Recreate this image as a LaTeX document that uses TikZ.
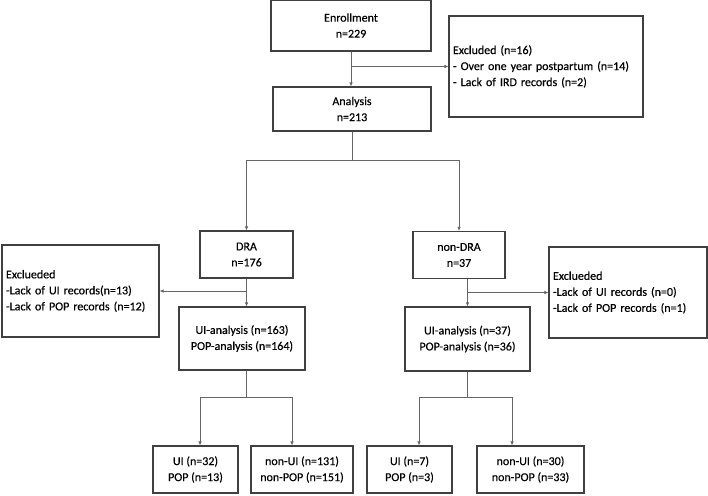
\documentclass[tikz,border=0pt]{standalone}
\usepackage{fontspec}
\setmainfont{Carlito}
\newfontfamily\chartfont{Carlito}[FakeBold=0.4]
\usetikzlibrary{positioning, calc, arrows.meta}
\tikzset{
        box/.style={
            draw=black!75, line width=1.1pt, align=center, inner sep=2pt,
            font=\chartfont\fontsize{12}{16}\selectfont
        },
        exclbox/.style={box, align=left, inner xsep=4pt},
        link/.style={draw=black!60, line width=0.7pt},
        arrow/.style={link, -{Latex[length=4pt, width=3.5pt]}},
}

\begin{document}
\begin{tikzpicture}[x=1pt, y=-1pt]

        \useasboundingbox (0,0) rectangle (708,495);

        % DRAW NODES (placed at pixel coordinates of the flow chart)
        \node[box, minimum width=160pt, minimum height=51pt]  (enroll)   at (351,25.5)   {Enrollment\\n=229};
        \node[exclbox, text width=186pt, minimum height=101pt] (excl)    at (546,66.5)   {Excluded (n=16)\\- Over one year postpartum (n=14)\\- Lack of IRD records (n=2)};
        \node[box, minimum width=158pt, minimum height=44pt]  (analysis) at (352,109)    {Analysis\\n=213};
        \node[box, minimum width=93pt,  minimum height=47pt]  (dra)      at (246.5,254.5) {DRA\\n=176};
        \node[box, minimum width=92pt,  minimum height=47pt]  (nondra)   at (459,255)    {non-DRA\\n=37};
        \node[exclbox, text width=149pt, minimum height=92pt]  (exclL)   at (80.5,291)   {Exclueded\\-Lack of UI records(n=13)\\-Lack of POP records (n=12)};
        \node[exclbox, text width=150pt, minimum height=91pt]  (exclR)   at (628,292.5)  {Exclueded\\-Lack of UI records (n=0)\\-Lack of POP records (n=1)};
        \node[box, minimum width=126pt, minimum height=63pt]  (uiaL)     at (242,338.5)  {UI-analysis (n=163)\\POP-analysis (n=164)};
        \node[box, minimum width=125pt, minimum height=64pt]  (uiaR)     at (467.5,339)  {UI-analysis (n=37)\\POP-analysis (n=36)};
        \node[box, minimum width=85pt,  minimum height=47pt]  (uiL)      at (195.5,469.5) {UI (n=32)\\POP (n=13)};
        \node[box, minimum width=102pt, minimum height=47pt]  (nonuiL)   at (302,469.5)  {non-UI (n=131)\\non-POP (n=151)};
        \node[box, minimum width=85pt,  minimum height=47pt]  (uiR)      at (409.5,469.5) {UI (n=7)\\POP (n=3)};
        \node[box, minimum width=107pt, minimum height=47pt]  (nonuiR)   at (530.5,469.5) {non-UI (n=30)\\non-POP (n=33)};

        % CONNECT ENROLLMENT
        \draw[arrow] (enroll.south) -- (enroll.south |- analysis.north);
        \draw[arrow] (enroll.south |- excl.west) -- (excl.west);

        % SPLIT INTO DRA AND NON-DRA
        \coordinate (split) at (analysis.south |- 0,160);
        \draw[link]  (analysis.south) -- (split);
        \draw[arrow] (split) -| (dra.north);
        \draw[arrow] (split) -| (nondra.north);

        % DRA BRANCH
        \draw[arrow] (dra.south) -- (dra.south |- uiaL.north);
        \draw[arrow] (dra.south |- exclL.east) -- (exclL.east);

        % NON-DRA BRANCH
        \draw[arrow] (uiaR.north |- nondra.south) -- (uiaR.north);
        \draw[arrow] (uiaR.north |- exclR.west) -- (exclR.west);

        % CONNECT OUTCOMES
        \coordinate (splitL) at (dra.south |- 0,397);
        \coordinate (splitR) at (uiaR.south |- 0,397);
        \draw[link]  (dra.south |- uiaL.south) -- (splitL);
        \draw[arrow] (splitL) -| ($(uiL.north)+(4.5,0)$);
        \draw[arrow] (splitL) -| ($(nonuiL.north)+(-10,0)$);
        \draw[link]  (uiaR.south) -- (splitR);
        \draw[arrow] (splitR) -| ($(uiR.north)+(9.5,0)$);
        \draw[arrow] (splitR) -| ($(nonuiR.north)+(-18.5,0)$);

\end{tikzpicture}
\end{document}
